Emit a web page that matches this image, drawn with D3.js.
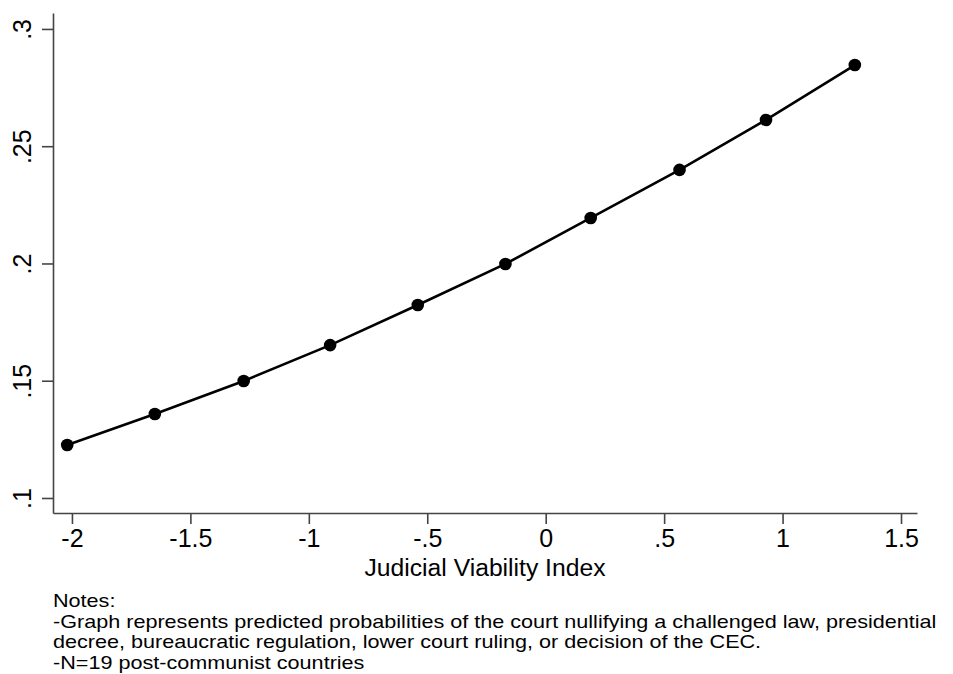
<!DOCTYPE html>
<html>
<head>
<meta charset="utf-8">
<script src="https://cdn.jsdelivr.net/npm/d3@7"></script>
<style>
  body { margin: 0; background: #fff; }
  svg text { font-family: "Liberation Sans", Arial, sans-serif; fill: #000; }
</style>
</head>
<body>
<div id="chart"></div>
<script>
// Data
const jvIndex = [-2.02, -1.65, -1.275, -0.91, -0.54, -0.17, 0.19, 0.565, 0.93, 1.305];
const predProb = [0.1226, 0.1358, 0.1499, 0.1652, 0.1823, 0.1998, 0.2194, 0.2399, 0.2612, 0.2846];
const xTicks = [-2, -1.5, -1, -0.5, 0, 0.5, 1, 1.5];
const yTicks = [0.1, 0.15, 0.2, 0.25, 0.3];
const notes = [
    "Notes:",
    "-Graph represents predicted probabilities of the court nullifying a challenged law, presidential",
    "decree, bureaucratic regulation, lower court ruling, or decision of the CEC.",
    "-N=19 post-communist countries"
];

const width = 953, height = 674;
const margin = { left: 53, right: 36, top: 13, bottom: 161 };

const svg = d3.select("#chart").append("svg")
    .attr("width", width)
    .attr("height", height);

const x = d3.scaleLinear()
    .domain([-2.08, 1.5675])
    .range([margin.left, width - margin.right]);

const y = d3.scaleLinear()
    .domain([0.0936, 0.3068])
    .range([height - margin.bottom, margin.top]);

// stata style number format: .5, -.5, .25 with a plain hyphen
const fmt = v => {
    let s = String(+v.toFixed(2));
    return s.replace(/^0\./, ".").replace(/^-0\./, "-.");
};

const axisColor = "#444";

// x axis
const xAxis = svg.append("g")
    .attr("transform", `translate(0,${height - margin.bottom})`)
    .call(d3.axisBottom(x).tickValues(xTicks).tickFormat(fmt).tickSize(11).tickPadding(5).tickSizeOuter(0));
xAxis.select(".domain").attr("stroke", axisColor).attr("stroke-width", 1.6);
xAxis.selectAll(".tick line").attr("stroke", axisColor).attr("stroke-width", 1.6);
xAxis.selectAll(".tick text").attr("font-size", 25).attr("fill", "#000");

// y axis, labels turned
const yAxis = svg.append("g")
    .attr("transform", `translate(${margin.left},0)`)
    .call(d3.axisLeft(y).tickValues(yTicks).tickFormat(fmt).tickSize(11).tickSizeOuter(0));
yAxis.select(".domain").attr("stroke", axisColor).attr("stroke-width", 1.6);
yAxis.selectAll(".tick line").attr("stroke", axisColor).attr("stroke-width", 1.6);
yAxis.selectAll(".tick text")
    .attr("font-size", 25)
    .attr("fill", "#000")
    .attr("x", null).attr("dy", null)
    .attr("text-anchor", "middle")
    .attr("transform", "translate(-22,0) rotate(-90)");

// axis title
svg.append("text")
    .attr("x", (margin.left + width - margin.right) / 2)
    .attr("y", 576)
    .attr("text-anchor", "middle")
    .attr("font-size", 24.7)
    .text("Judicial Viability Index");

// the line and the points
const pts = jvIndex.map((d, i) => [d, predProb[i]]);

svg.append("path")
    .datum(pts)
    .attr("fill", "none")
    .attr("stroke", "#000")
    .attr("stroke-width", 2.6)
    .attr("d", d3.line().x(d => x(d[0])).y(d => y(d[1])));

svg.selectAll(".dot")
    .data(pts)
    .join("circle")
    .attr("class", "dot")
    .attr("cx", d => x(d[0]))
    .attr("cy", d => y(d[1]))
    .attr("r", 6.3)
    .attr("fill", "#000");

// notes under the chart: tight leading, so smaller type stretched sideways
const notesG = svg.append("g")
    .attr("transform", "translate(53,0) scale(1.2,1)");

notesG.selectAll(".note")
    .data(notes)
    .join("text")
    .attr("class", "note")
    .attr("x", 0)
    .attr("y", (d, i) => 607 + i * 20.7)
    .attr("font-size", 18)
    .text(d => d);
</script>
</body>
</html>
